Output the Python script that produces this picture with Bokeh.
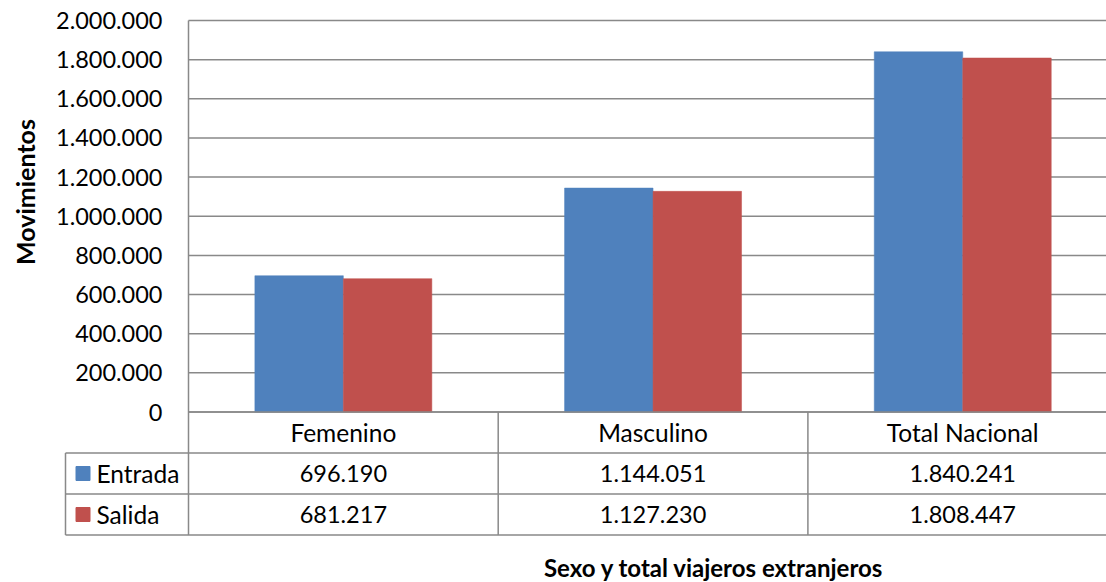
import math
from bokeh.plotting import figure
from bokeh.models import Range1d
from bokeh.core.properties import value
from bokeh.embed import file_html
from bokeh.resources import INLINE

# ---------------- data ----------------
CATEGORIES = ["Femenino", "Masculino", "Total Nacional"]
SERIES = ["Entrada", "Salida"]
ENTRADA = [696190, 1144051, 1840241]
SALIDA = [681217, 1127230, 1808447]
Y_TICKS = [0, 200000, 400000, 600000, 800000, 1000000,
           1200000, 1400000, 1600000, 1800000, 2000000]
Y_TICK_LABELS = ["0", "200.000", "400.000", "600.000", "800.000", "1.000.000",
                 "1.200.000", "1.400.000", "1.600.000", "1.800.000", "2.000.000"]
Y_TITLE = "Movimientos"
X_TITLE = "Sexo y total viajeros extranjeros"

# ---------------- style / layout (pixels) ----------------
COLORS = ["#4F81BD", "#C0504D"]
LINE = "#898989"
FONT = "Lato"
FS_NUM = "23.5px"
FS_TXT = "24.5px"
FS_YT = "25px"
FS_XT = "24px"

W, H = 1106, 582
AX_X = 188.0       # x of the value axis
Y_MAX_PX = 20.0    # y of the top tick
Y_ZERO_PX = 411.5  # y of zero
CAT_W = 309.7      # width of one category
ROW_H = 41.0       # data-table row height
TBL_L = 65.0       # data-table left edge
TBL_ROW0 = Y_ZERO_PX + ROW_H  # top of first series row
GAP = 1.5          # gap width 150 %

fmt = lambda v: f"{v:,}".replace(",", ".")
SERIES_VALUES = [ENTRADA, SALIDA]

n = len(CATEGORIES)
ns = len(SERIES)
y_max = Y_TICKS[-1]
upp = y_max / (Y_ZERO_PX - Y_MAX_PX)   # value units per pixel
px_x = lambda px: (px - AX_X) / CAT_W   # pixel -> category units
px_t = lambda py: (TBL_ROW0 - py) / ROW_H  # pixel -> table-row units

p = figure(width=W, height=H,
           x_range=Range1d(px_x(0), px_x(W)),
           y_range=Range1d(-(H - Y_ZERO_PX) * upp, y_max + Y_MAX_PX * upp),
           x_axis_location=None, y_axis_location=None,
           output_backend="svg", toolbar_location=None,
           min_border=0, min_border_left=0, min_border_right=0,
           min_border_top=0, min_border_bottom=0,
           outline_line_color=None)
p.extra_y_ranges = {"table": Range1d(px_t(H), px_t(0))}
p.grid.grid_line_color = None

# gridlines at the value ticks
p.segment(x0=[0] * len(Y_TICKS), y0=Y_TICKS, x1=[n] * len(Y_TICKS), y1=Y_TICKS,
          line_color=LINE, line_width=1.5)

# value axis line
p.segment(x0=[0], y0=[0], x1=[0], y1=[y_max], line_color=LINE, line_width=1.5)

# bars
bw = 1.0 / (ns + GAP)
for k, (vals, col) in enumerate(zip(SERIES_VALUES, COLORS)):
    xs = [i + 0.5 + (k - (ns - 1) / 2) * bw for i in range(n)]
    p.vbar(x=xs, top=vals, bottom=0, width=bw, fill_color=col, line_color=col,
           line_width=0.5)

# tick labels
p.text(x=[px_x(162)] * len(Y_TICKS), y=Y_TICKS, text=Y_TICK_LABELS,
       text_align="right", text_baseline="middle", text_font=value(FONT),
       text_font_size=FS_NUM, text_color="#000000")

# axis title
p.text(x=[px_x(24)], y=[(Y_ZERO_PX - 191.5) * upp], text=[Y_TITLE], angle=math.pi / 2,
       text_align="center", text_baseline="middle", text_font=value(FONT),
       text_font_size=FS_YT, text_font_style="bold", text_color="#000000")

# ---------------- data table ----------------
tl = px_x(TBL_L)
vx = list(range(n + 1))
# horizontal lines: top of category row (zero line), and series rows
p.segment(x0=[0] + [tl] * (ns + 1), y0=list(range(1, -ns - 1, -1)),
          x1=[n] * (ns + 2), y1=list(range(1, -ns - 1, -1)),
          line_color=LINE, line_width=1.5, y_range_name="table")
# vertical lines
p.segment(x0=vx + [tl], y0=[1] * (n + 1) + [0], x1=vx + [tl], y1=[-ns] * (n + 2),
          line_color=LINE, line_width=1.5, y_range_name="table")

p.text(x=[i + 0.5 for i in range(n)], y=[0.5] * n, text=CATEGORIES,
       text_align="center", text_baseline="middle", text_font=value(FONT),
       text_font_size=FS_TXT, text_color="#000000", y_range_name="table")

for k, (name, vals, col) in enumerate(zip(SERIES, SERIES_VALUES, COLORS)):
    yc = -k - 0.5
    p.scatter(x=[px_x(82.5)], y=[yc], marker="square", size=14,
              fill_color=col, line_color=col, y_range_name="table")
    p.text(x=[px_x(96)], y=[yc], text=[name], text_align="left",
           text_baseline="middle", text_font=value(FONT), text_font_size=FS_TXT,
           text_color="#000000", y_range_name="table")
    p.text(x=[i + 0.5 for i in range(n)], y=[yc] * n, text=[fmt(v) for v in vals],
           text_align="center", text_baseline="middle", text_font=value(FONT),
           text_font_size=FS_NUM, text_color="#000000", y_range_name="table")

p.text(x=[px_x(713.5)], y=[px_t(567)], text=[X_TITLE], text_align="center",
       text_baseline="middle", text_font=value(FONT), text_font_size=FS_XT,
       text_font_style="bold", text_color="#000000", y_range_name="table")

open("out.html", "w").write(file_html(p, INLINE))
